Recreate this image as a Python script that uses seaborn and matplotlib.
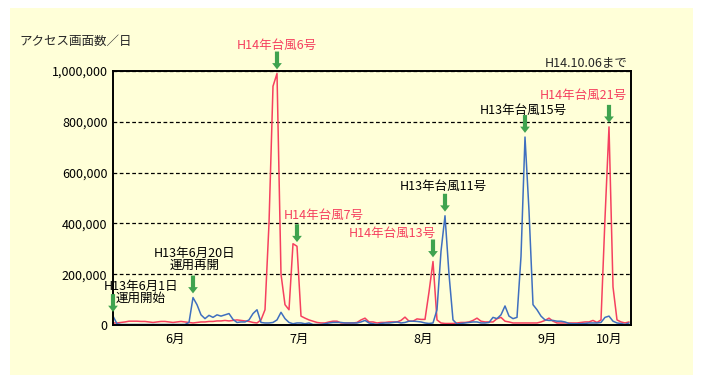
import matplotlib

matplotlib.use("Agg")

import matplotlib.pyplot as plt
import numpy as np
import pandas as pd
import seaborn as sns
from matplotlib.patches import Rectangle

# 1日あたりのアクセス画面数（千件）、6月1日からの日次
h14_k = [8, 8, 10, 12, 15, 15, 15, 14, 14, 12,
         10, 12, 14, 14, 12, 10, 12, 14, 12, 10,
         8, 10, 12, 12, 14, 14, 16, 16, 18, 16,
         18, 20, 18, 16, 14, 10, 8, 20, 60, 400,
         940, 990, 200, 80, 60, 320, 310, 35, 27, 20,
         15, 10, 8, 8, 12, 15, 15, 8, 8, 8,
         8, 10, 20, 27, 12, 12, 8, 10, 10, 12,
         12, 12, 18, 31, 15, 15, 24, 22, 22, 130,
         250, 20, 8, 6, 6, 6, 8, 10, 10, 12,
         18, 27, 15, 12, 12, 12, 25, 30, 15, 12,
         8, 8, 8, 8, 8, 8, 8, 12, 18, 27,
         15, 8, 8, 8, 8, 8, 8, 10, 12, 12,
         18, 10, 20, 420, 780, 150, 20, 12, 8, 12]
h13_k = [35, 5, 2, 2, 2, 2, 2, 2, 2, 2,
         2, 2, 2, 2, 2, 2, 2, 2, 2, 10,
         108, 80, 40, 25, 38, 30, 40, 35, 40, 45,
         22, 10, 12, 12, 20, 45, 60, 10, 8, 8,
         10, 20, 50, 25, 10, 5, 8, 8, 5, 8,
         2, 2, 2, 5, 8, 10, 10, 10, 8, 8,
         8, 8, 12, 18, 8, 5, 2, 6, 8, 8,
         10, 12, 8, 10, 15, 15, 14, 12, 8, 6,
         8, 60, 290, 430, 200, 20, 4, 6, 8, 10,
         12, 12, 8, 8, 10, 30, 25, 40, 75, 35,
         25, 30, 270, 740, 450, 80, 60, 35, 20, 18,
         18, 15, 15, 12, 6, 5, 5, 5, 6, 8,
         8, 8, 10, 30, 35, 15, 8, 6, 2, 8]

month_labels = ["6月", "7月", "8月", "9月", "10月"]
month_ticks = [15.5, 46.5, 77.5, 108.5, 124]
y_ticks = [0, 200000, 400000, 600000, 800000, 1000000]

# 注記: (ラベル, 系列, 日, 文字の横ずれpx, 縦位置px, 揃え)
event_labels = ["H14年台風6号", "H14年台風7号", "H14年台風13号", "H13年台風11号",
                "H13年台風15号", "H14年台風21号", "H13年6月20日\n運用再開",
                "H13年6月1日\n運用開始"]
event_series = ["H14", "H14", "H14", "H13", "H13", "H14", "H13", "H13"]
event_days = [41, 46, 80, 83, 103, 124, 20, 0]

RED = "#F5405F"
BLUE = "#3F6FBF"
GREEN = "#3FA34F"
BG = "#FFFFD8"

sns.set_style("white")
plt.rcParams["font.family"] = ["Noto Sans CJK JP", "DejaVu Sans"]

n = len(h14_k)
df = pd.DataFrame({
    "day": np.concatenate([np.arange(n), np.arange(n)]),
    "value": np.concatenate([np.array(h14_k), np.array(h13_k)]) * 1000,
    "series": ["H14"] * n + ["H13"] * n,
})

fig = plt.figure(figsize=(7.03, 3.85), dpi=100, facecolor="white")
fig.patches.append(Rectangle((10 / 703, 10 / 385), 683 / 703, 367 / 385,
                             transform=fig.transFigure, facecolor=BG,
                             edgecolor="none", zorder=-10))
ax = fig.add_axes([113 / 703, 60 / 385, 518 / 703, 254 / 385])
ax.set_facecolor("none")

sns.lineplot(data=df, x="day", y="value", hue="series",
             hue_order=["H14", "H13"], palette={"H14": RED, "H13": BLUE},
             linewidth=1.1, legend=False, ax=ax)

ax.set_xlim(0, 129.5)
ax.set_ylim(0, 1000000)
ax.set_yticks(y_ticks)
ax.set_yticklabels([f"{v:,}" for v in y_ticks])
ax.set_xticks(month_ticks)
ax.set_xticklabels(month_labels)
ax.tick_params(length=0, labelsize=9, colors="black")
ax.tick_params(axis="y", pad=4)
ax.tick_params(axis="x", pad=6)
ax.set_xlabel("")
ax.set_ylabel("")
ax.yaxis.grid(True, linestyle=(0, (3, 2)), color="black", linewidth=0.9)
for s in ax.spines.values():
    s.set_color("black")
    s.set_linewidth(1.4)

series_data = {"H14": h14_k, "H13": h13_k}
text_dx = [0, -13, 3, -2, -2, 18, 2, 28]
text_dy = [28, 31, 28, 29, 27, 31, 38, 24]
text_ha = ["center", "left", "right", "center", "center", "right", "center", "center"]
for lab, ser, d, dx, dy, ha in zip(event_labels, event_series, event_days,
                                   text_dx, text_dy, text_ha):
    v = series_data[ser][d] * 1000
    ax.annotate("", xy=(d, v), xytext=(0, 22), textcoords="offset pixels",
                annotation_clip=False,
                arrowprops=dict(arrowstyle="simple,head_length=0.45,head_width=0.7,tail_width=0.3",
                                mutation_scale=10, fc=GREEN, ec="none",
                                shrinkA=0, shrinkB=3))
    ax.annotate(lab, xy=(d, v), xytext=(dx, dy), textcoords="offset pixels",
                ha=ha, va="center", fontsize=9, linespacing=0.9,
                color=RED if ser == "H14" else "black", annotation_clip=False)

ax.annotate("H14.10.06まで", xy=(1, 1), xycoords="axes fraction",
            xytext=(-3, 8), textcoords="offset pixels", ha="right", va="center",
            fontsize=9)
fig.text(19 / 703, 1 - 41 / 385, "アクセス画面数／日", ha="left", va="center",
         fontsize=9)

fig.savefig("out.png", dpi=100, facecolor="white")
